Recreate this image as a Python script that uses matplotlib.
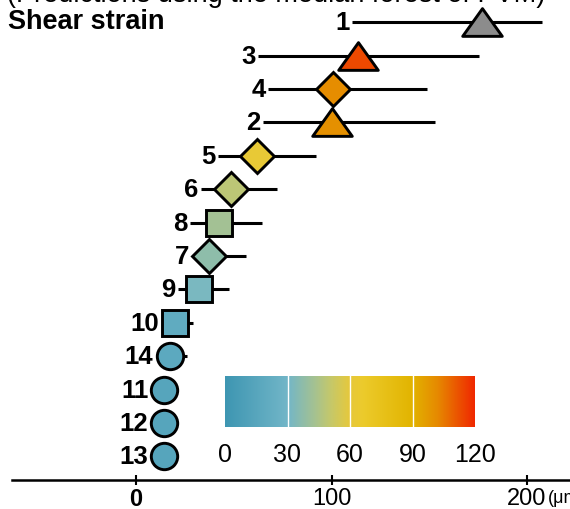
import numpy as np
import matplotlib
matplotlib.use('Agg')
import matplotlib.pyplot as plt
from matplotlib.colors import LinearSegmentedColormap
from matplotlib.path import Path

plt.rcParams['font.family'] = ['Liberation Sans', 'DejaVu Sans']

# rows from top to bottom
labels = ['1', '3', '4', '2', '5', '6', '8', '7', '9', '10', '14', '11', '12', '13']
median = [177, 113.6, 100.8, 100.3, 61.9, 48.6, 42.5, 37.3, 32.2, 20, 17.4, 14.5, 14.5, 14.5]
lower = [110.5, 62.4, 67.5, 65, 41.9, 33.2, 27.6, 28.6, 21.5, 14, 10, 11, 11, 11]
upper = [207.7, 175.4, 148.8, 153, 92, 72.1, 64.5, 56.3, 47.6, 29.2, 26, 18, 18, 18]
kind = ['tri', 'tri', 'dia', 'tri', 'dia', 'dia', 'sq', 'dia', 'sq', 'sq',
        'circ', 'circ', 'circ', 'circ']

x_ticks = [0, 100, 200]
cbar_ticks = [0, 30, 60, 90, 120]

cmap = LinearSegmentedColormap.from_list('strain', [
    (0.0, '#3e96b2'), (0.25, '#72b6c8'), (0.36, '#a6c290'),
    (0.42, '#c4c86c'), (0.5, '#e6c83c'), (0.55, '#eccb2c'),
    (0.75, '#e2b400'), (0.85, '#e68a00'), (1.0, '#f02800')])

# wide flat triangle
tri = Path([(-1, -0.7), (1, -0.7), (0, 0.7), (-1, -0.7)],
           [Path.MOVETO, Path.LINETO, Path.LINETO, Path.CLOSEPOLY])
mk = {'tri': (tri, 28.5), 'dia': ('D', 17.5), 'sq': ('s', 19), 'circ': ('o', 19)}

fig = plt.figure(figsize=(5.7, 5.1), dpi=100)
ax = fig.add_axes([0, 0, 1, 1])
ax.set_xlim(-69.6, 222)
ax.set_ylim(14.58, -0.7)

for i, lab in enumerate(labels):
    ax.hlines(i, lower[i], upper[i], color='black', lw=2.2, zorder=1)
    m, ms = mk[kind[i]]
    if median[i] > 120:
        fc = '#8c8c8c'   # out of colour range
    else:
        fc = cmap(median[i] / 120)
    ax.plot(median[i], i, marker=m, ms=ms, mfc=fc, mec='black', mew=2.1,
            zorder=2, ls='none')
    left = min(lower[i], median[i] - 7)
    ax.text(left - 1.2, i, lab, ha='right', va='center', fontsize=18.5,
            fontweight='bold')

for s in ['top', 'right', 'left']:
    ax.spines[s].set_visible(False)
ax.spines['bottom'].set_position(('data', 13.72))
ax.spines['bottom'].set_bounds(-63.4, 230)
ax.spines['bottom'].set_linewidth(1.8)
ax.set_yticks([])
ax.set_xticks(x_ticks)
ax.set_xticklabels([str(t) for t in x_ticks], fontsize=17)
ax.get_xticklabels()[0].set_fontweight('bold')
ax.tick_params(axis='x', direction='inout', length=7, width=1.5, pad=1)
ax.text(210.5, 14.25, '(μm)', ha='left', va='center', fontsize=13)

fig.text(8 / 570, 1 - 22 / 510, 'Shear strain', ha='left', va='center',
         fontsize=19.5, fontweight='bold')
fig.text(7 / 570, 1 - 2 / 510, '(Predictions using the median forest of PVM)',
         ha='left', va='baseline', fontsize=19.5)

# colour scale
cax = fig.add_axes([225 / 570, (510 - 428) / 510, 250 / 570, 51 / 510])
grad = np.linspace(0, 120, 256)[None, :]
cax.imshow(grad, cmap=cmap, vmin=0, vmax=120, aspect='auto',
           extent=[0, 120, 0, 1])
for t in cbar_ticks[1:-1]:
    cax.axvline(t, color='white', lw=1)
cax.set_xlim(0, 120)
cax.set_yticks([])
cax.set_xticks(cbar_ticks)
cax.set_xticklabels([str(t) for t in cbar_ticks], fontsize=18)
cax.tick_params(axis='x', length=0, pad=11)
for s in cax.spines.values():
    s.set_visible(False)

fig.savefig('out.png', dpi=100)
